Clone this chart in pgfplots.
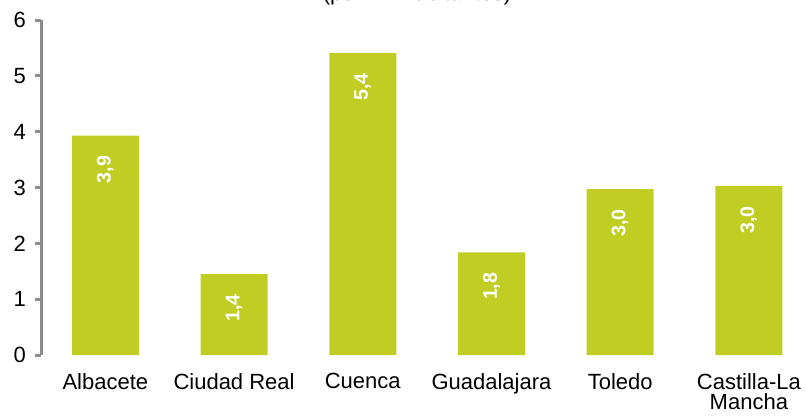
\documentclass[border=0pt]{standalone}
\usepackage{pgfplots}
\usepackage{pgfplotstable}
\pgfplotsset{compat=1.18}
\usepackage{fontspec}
\setmainfont{Liberation Sans}
\definecolor{barc}{RGB}{192,206,35}
\definecolor{axc}{RGB}{140,140,140}
\pgfplotstableread{
x y lab
0 3.93 3,9
1 1.45 1,4
2 5.41 5,4
3 1.84 1,8
4 2.97 3,0
5 3.03 3,0
}\datatab
\begin{document}
\begin{tikzpicture}
\begin{axis}[
  at={(0,0)}, anchor=south west,
  scale only axis,
  width=382.5pt, height=167.5pt,
  xmin=-0.5, xmax=5.444,
  ymin=0, ymax=6,
  axis y line*=left,
  axis x line*=bottom,
  x axis line style={draw=none},
  ytick={0,1,2,3,4,5,6},
  xtick={0,1,2,3,4,5},
  xticklabels={Albacete,Ciudad Real,Cuenca,Guadalajara,Toledo,{Castilla-La\\Mancha}},
  tick align=outside,
  major tick length=3pt,
  y axis line style={draw=axc, line width=1.5pt},
  ytick style={draw=axc, line width=1.5pt},
  xtick style={draw=none},
  /pgf/number format/assume math mode=true,
  tick label style={font=\fontsize{11}{10}\selectfont, black},
  xticklabel style={align=center, yshift=-2.5pt},
  yticklabel style={xshift=-1pt},
  clip=false,
]
\addplot[ybar, bar width=33.5pt, fill=barc, draw=none,
  point meta=explicit symbolic,
  nodes near coords,
  nodes near coords style={rotate=90, anchor=east, inner xsep=10pt, inner ysep=0pt, text=white, font=\bfseries\fontsize{9.8}{10}\selectfont},
] table[x=x, y=y, meta=lab] {\datatab};
\end{axis}
\node[anchor=base, font=\fontsize{11}{11}\selectfont] at (188pt,177.3pt) {(por mil habitantes)};
\pgfresetboundingbox
\useasboundingbox (-20.5pt,-31pt) rectangle (382.5pt,177.5pt);
\end{tikzpicture}
\end{document}
